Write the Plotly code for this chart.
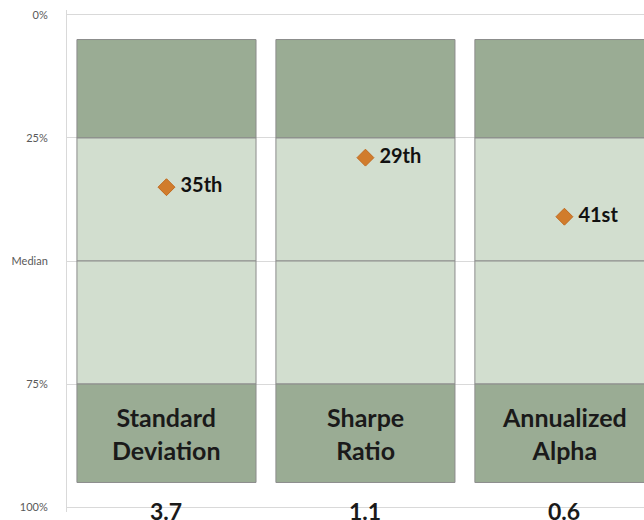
import plotly.graph_objects as go

categories = ["Standard<br>Deviation", "Sharpe<br>Ratio", "Annualized<br>Alpha"]
metric_values = ["3.7", "1.1", "0.6"]
percentiles = [35, 29, 41]
rank_labels = ["35th", "29th", "41st"]
band_edges = [5, 25, 50, 75, 95]
band_colors = ["#9aac94", "#d2decf", "#d2decf", "#9aac94"]
tick_vals = [0, 25, 50, 75, 100]
tick_text = ["0%", "25%", "Median", "75%", "100%"]

x = list(range(len(categories)))
fig = go.Figure()
for i in range(len(band_edges) - 1):
    lo, hi = band_edges[i], band_edges[i + 1]
    fig.add_trace(go.Bar(
        x=x, y=[hi - lo] * len(x), base=[lo] * len(x),
        width=0.9, marker=dict(color=band_colors[i], line=dict(color="#8c8c8c", width=1)),
        hoverinfo="skip", showlegend=False))

fig.add_trace(go.Scatter(
    x=x, y=percentiles, mode="markers+text", text=[" " + t for t in rank_labels],
    textposition="middle right",
    textfont=dict(family="Lato", size=20, color="#111111", weight="bold"),
    marker=dict(symbol="diamond", size=13, color="#d17c2c", line=dict(color="#c06a20", width=1)),
    showlegend=False, cliponaxis=False))

for xi, cat, val in zip(x, categories, metric_values):
    fig.add_annotation(x=xi, y=85, text="<b>" + cat + "</b>", showarrow=False,
                       font=dict(family="Lato", size=25, color="#1a1a1a"))
    fig.add_annotation(x=xi, y=100, yanchor="top", yshift=12, text="<b>" + val + "</b>",
                       showarrow=False, font=dict(family="Lato", size=23, color="#1a1a1a"))

fig.update_layout(
    width=644, height=520, barmode="overlay", bargap=0.1,
    margin=dict(l=67, r=0, t=10, b=8, autoexpand=False),
    plot_bgcolor="white", paper_bgcolor="white",
    xaxis=dict(range=[-0.5, 2.4], showticklabels=False, showgrid=False, zeroline=False,
               automargin=False),
    yaxis=dict(range=[101, -1], tickvals=tick_vals, ticktext=tick_text, automargin=False,
               showgrid=True, gridcolor="#d9d9d9", zeroline=False,
               showline=True, linecolor="#d9d9d9", ticks="", ticklabelstandoff=16,
               tickfont=dict(family="Lato", size=11, color="#595959")),
)
fig.write_html("out.html", config={"displayModeBar": False},
               post_script="document.body.style.margin='0px';")
